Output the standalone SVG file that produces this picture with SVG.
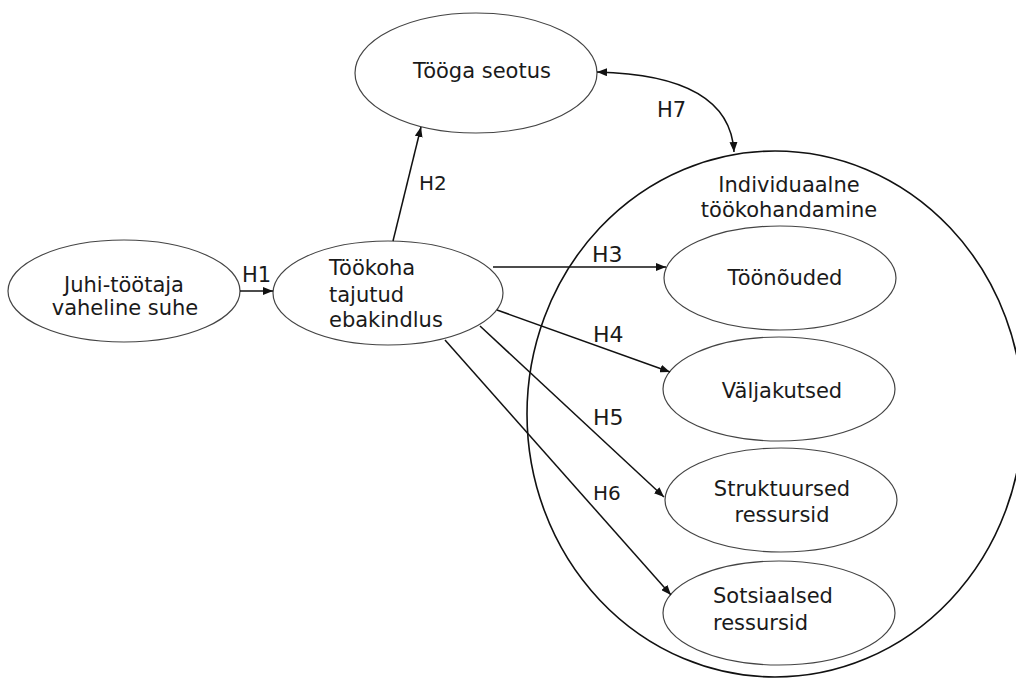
<svg xmlns="http://www.w3.org/2000/svg" width="1016" height="681" viewBox="0 0 1016 681">
<style>
.node{fill:#fff;stroke:#444;stroke-width:1.2}
.big{fill:none;stroke:#111;stroke-width:1.6}
.t{font-family:"DejaVu Sans",Verdana,sans-serif;font-size:21px;fill:#1a1a1a}
.c{text-anchor:middle}
.lbl{font-family:"DejaVu Sans",Verdana,sans-serif;fill:#1a1a1a}
.e{fill:none;stroke:#111;stroke-width:1.5}
</style>
<defs>
<marker id="ah" markerUnits="userSpaceOnUse" markerWidth="11" markerHeight="8" refX="10" refY="4" orient="auto-start-reverse">
<path d="M0,0 L10,4 L0,8 z" fill="#111"/>
</marker>
</defs>
<g id="individuaalne">
<ellipse class="big" cx="775" cy="414" rx="248" ry="263"/>
<text class="t c" x="789" y="192">Individuaalne</text>
<text class="t c" x="789" y="217">töökohandamine</text>
</g>
<g id="juhi">
<ellipse class="node" cx="124" cy="291" rx="116" ry="51"/>
<text class="t c" x="124" y="292">Juhi-töötaja</text>
<text class="t c" x="125" y="315">vaheline suhe</text>
</g>
<g id="tookoha">
<ellipse class="node" cx="388" cy="293" rx="115" ry="52"/>
<text class="t" x="329" y="275">Töökoha</text>
<text class="t" x="329" y="302">tajutud</text>
<text class="t" x="329" y="327">ebakindlus</text>
</g>
<g id="tooga">
<ellipse class="node" cx="476" cy="73" rx="121" ry="60"/>
<text class="t c" x="482" y="78">Tööga seotus</text>
</g>
<g id="toonouded">
<ellipse class="node" cx="780" cy="278" rx="116" ry="52"/>
<text class="t c" x="785" y="285">Töönõuded</text>
</g>
<g id="valjakutsed">
<ellipse class="node" cx="779" cy="389" rx="116" ry="52"/>
<text class="t c" x="782" y="398">Väljakutsed</text>
</g>
<g id="struktuursed">
<ellipse class="node" cx="781" cy="500" rx="116" ry="52"/>
<text class="t c" x="782" y="496">Struktuursed</text>
<text class="t c" x="782" y="522">ressursid</text>
</g>
<g id="sotsiaalsed">
<ellipse class="node" cx="779" cy="613" rx="116" ry="52"/>
<text class="t" x="713" y="603">Sotsiaalsed</text>
<text class="t" x="713" y="630">ressursid</text>
</g>
<g id="connectors">
<line class="e" x1="240" y1="291" x2="273" y2="291" marker-end="url(#ah)"/>
<line class="e" x1="393" y1="241" x2="421" y2="127" marker-end="url(#ah)"/>
<line class="e" x1="493" y1="267" x2="666" y2="267" marker-end="url(#ah)"/>
<line class="e" x1="497" y1="310" x2="670" y2="372" marker-end="url(#ah)"/>
<line class="e" x1="480" y1="326" x2="664" y2="497" marker-end="url(#ah)"/>
<line class="e" x1="445" y1="340" x2="671" y2="595" marker-end="url(#ah)"/>
<path class="e" d="M597,72 Q730,75 734,152" marker-start="url(#ah)" marker-end="url(#ah)"/>
<text class="lbl" x="242" y="282" font-size="21">H1</text>
<text class="lbl" x="419" y="190" font-size="20">H2</text>
<text class="lbl" x="592" y="262" font-size="22">H3</text>
<text class="lbl" x="593" y="342" font-size="22">H4</text>
<text class="lbl" x="593" y="425" font-size="22">H5</text>
<text class="lbl" x="593" y="500" font-size="20">H6</text>
<text class="lbl" x="657" y="117" font-size="21">H7</text>
</g>
</svg>
